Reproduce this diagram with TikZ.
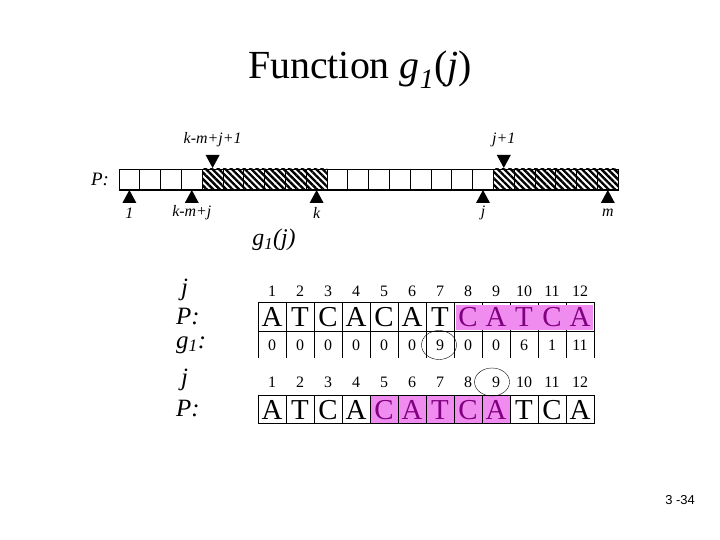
\documentclass[tikz,border=0pt]{standalone}
\usepackage{fontspec}
\setmainfont{Liberation Serif}
\newfontfamily\pagefont{Liberation Sans}
\usetikzlibrary{positioning,patterns.meta}
\definecolor{pinkbox}{RGB}{240,140,240}
\definecolor{pinktext}{RGB}{128,0,128}
\newcommand{\fsz}[1]{\fontsize{#1}{#1}\selectfont}

\begin{document}
\begin{tikzpicture}[x=1bp,y=-1bp,
  cellbox/.style={draw,line width=0.9pt},
  hatch/.style={pattern={Lines[angle=-45,distance=4.6pt,line width=2.4pt]}},
  marklbl/.style={font=\fsz{16}\itshape},
  sidelbl/.style={font=\fsz{25}\itshape,anchor=west,inner sep=1pt},
  numlbl/.style={font=\fsz{16}},
  baselbl/.style={font=\fsz{29}}]
\useasboundingbox (0,0) rectangle (720,540);
\node[font=\fsz{40}] (title) at (360,70) {Function \textit{g\textsubscript{1}}(\textit{j})};
% pattern P with its two copies of the suffix
\foreach \i in {5,...,10} \fill[hatch] ({119+(\i-1)*20.8},169) rectangle +(20.8,21);
\foreach \i in {19,...,24} \fill[hatch] ({119+(\i-1)*20.8},169) rectangle +(20.8,21);
\foreach \i in {0,...,23} \draw[cellbox] ({119+\i*20.8},169) rectangle +(20.8,21);
\draw[line width=1.8pt] (119,190) -- (618,190);
\node[font=\fsz{19}\itshape] (plbl) at (100,179) {P:};
\foreach \c/\nm/\txt in {1/one/1, 4/kmj/k-m+j, 10/k/k, 18/j/j, 24/m/m} {
  \fill ({119+(\c-0.5)*20.8},190) -- +(-7,13) -- +(7,13) -- cycle;
  \node[marklbl] (lo\nm) at ({119+(\c-0.5)*20.8},213) {\txt};
}
\foreach \c/\nm/\txt in {5/kmjone/k-m+j+1, 19/jone/j+1} {
  \fill ({119+(\c-0.5)*20.8},168) -- +(-7,-13) -- +(7,-13) -- cycle;
  \node[marklbl] (up\nm) at ({119+(\c-0.5)*20.8},140) {\txt};
}
\node[font=\fsz{24}\itshape] (gj) at (274,240) {g\textsubscript{1}(j)};
% the table for P = ATCACATCATCA
\node[sidelbl] (sja) at (180,290) {j};
\node[sidelbl] (spa) at (175,317) {P:};
\node[sidelbl] (sga) at (175,345) {g\textsubscript{1}:};
\node[sidelbl] (sjb) at (180,380) {j};
\node[sidelbl] (spb) at (175,409) {P:};
\foreach \i in {0,...,11} \draw[cellbox] (258+\i*28,302) rectangle +(28,29);
\foreach \i in {0,...,12} \draw[cellbox] (258+\i*28,331) -- +(0,27);
\fill[pinkbox] (456,305) rectangle (593,330);
\fill[pinkbox] (370,396) rectangle (510,423);
\foreach \i in {0,...,11} \draw[cellbox] (258+\i*28,395) rectangle +(28,28);
\foreach \l/\c [count=\i] in {A/black,T/black,C/black,A/black,C/black,A/black,T/black,C/pinktext,A/pinktext,T/pinktext,C/pinktext,A/pinktext}
  \node[baselbl,text=\c] (pa\i) at (244+28*\i,317) {\l};
\foreach \l/\c [count=\i] in {A/black,T/black,C/black,A/black,C/pinktext,A/pinktext,T/pinktext,C/pinktext,A/pinktext,T/black,C/black,A/black}
  \node[baselbl,text=\c] (pb\i) at (244+28*\i,410) {\l};
\foreach \i in {1,...,12} {
  \node[numlbl] (ja\i) at (244+28*\i,291) {\i};
  \node[numlbl] (jb\i) at (244+28*\i,382) {\i};
}
\foreach \v [count=\i] in {0,0,0,0,0,0,9,0,0,6,1,11} \node[numlbl] (ga\i) at (244+28*\i,345) {\v};
\draw[thin] ([xshift=-1]ga7.center) ellipse [x radius=17.5, y radius=14.5];
\draw[thin] ([xshift=-4]jb9.center) ellipse [x radius=17.5, y radius=14];
\node[font=\pagefont\fsz{13}] (pagenum) at (680,500) {3 -34};
\end{tikzpicture}
\end{document}
